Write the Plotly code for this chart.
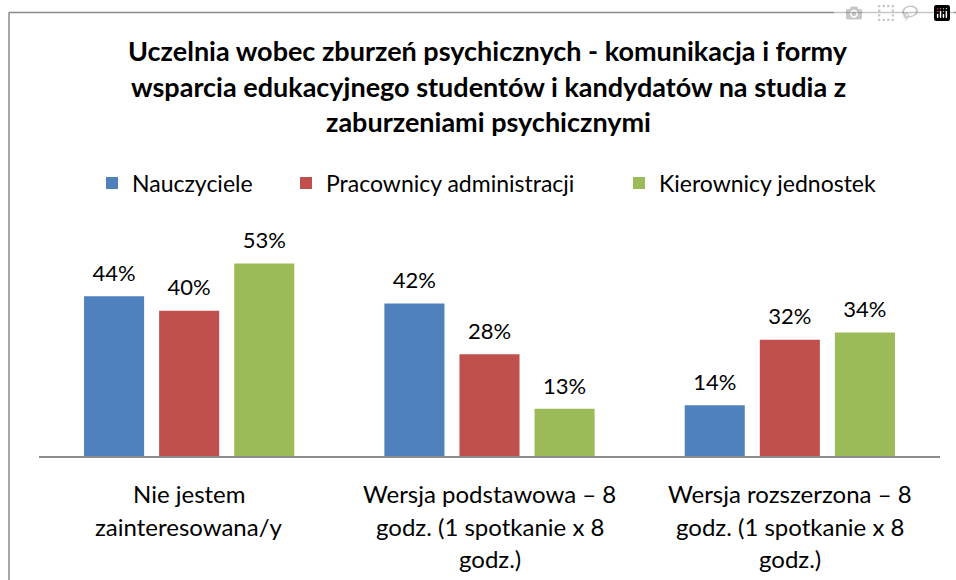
import plotly.graph_objects as go

# ---- data ----
categories = [
    "Nie jestem zainteresowana/y",
    "Wersja podstawowa – 8 godz. (1 spotkanie x 8 godz.)",
    "Wersja rozszerzona – 8 godz. (1 spotkanie x 8 godz.)",
]
category_lines = [
    ["Nie jestem", "zainteresowana/y"],
    ["Wersja podstawowa – 8", "godz. (1 spotkanie x 8", "godz.)"],
    ["Wersja rozszerzona – 8", "godz. (1 spotkanie x 8", "godz.)"],
]
series_names = ["Nauczyciele", "Pracownicy administracji", "Kierownicy jednostek"]
nauczyciele = [0.44, 0.42, 0.14]
pracownicy = [0.40, 0.28, 0.32]
kierownicy = [0.53, 0.13, 0.34]
series_values = [nauczyciele, pracownicy, kierownicy]
colors = ["#4F81BD", "#C0504D", "#9BBB59"]
title_lines = [
    "Uczelnia wobec zburzeń psychicznych - komunikacja i formy",
    "wsparcia edukacyjnego studentów i kandydatów na studia z",
    "zaburzeniami psychicznymi",
]

OFF = 0  # body margin removed via post_script
W, H = 956, 580
# plot area in screen pixels
SX0, SX1, SY0, SY1 = 39, 940, 238, 456
L, T = SX0 - OFF, SY0 - OFF
PW, PH = SX1 - SX0, SY1 - SY0
R, B = W - L - PW, H - T - PH
FONT = "Lato"

def px_x(x):  # screen x -> paper
    return (x - SX0) / PW

def px_y(y):  # screen y -> paper
    return (SY1 - y) / PH

fig = go.Figure()
legend_ids = ["legend", "legend2", "legend3"]
legend_marker_x = [104, 298, 631]
for i, (name, vals, col) in enumerate(zip(series_names, series_values, colors)):
    fig.add_trace(go.Bar(
        x=categories, y=vals, name=name, marker=dict(color=col, line=dict(width=0)),
        legend=legend_ids[i], hoverinfo="skip",
    ))
for i, (name, vals) in enumerate(zip(series_names, series_values)):
    fig.add_trace(go.Scatter(
        x=categories, y=vals, mode="markers+text",
        text=[f"{round(v*100)}%" for v in vals], textposition="top center",
        textfont=dict(family=FONT, size=22, color="#000000"),
        marker=dict(size=14, opacity=0), showlegend=False, hoverinfo="skip",
        cliponaxis=False,
    ))

annotations = []
title_y = [50, 86, 121]
for j, line in enumerate(title_lines):
    annotations.append(dict(
        text=line, xref="paper", yref="paper", x=px_x(488), y=px_y(title_y[j]),
        xanchor="center", yanchor="middle", showarrow=False,
        font=dict(family=FONT, size=27, color="#000000", weight="bold"),
    ))
line_y = [493, 526, 558]
for cat, lines in zip(categories, category_lines):
    for j, line in enumerate(lines):
        annotations.append(dict(
            text=line, xref="x", yref="paper", x=cat, y=px_y(line_y[j]),
            xanchor="center", yanchor="middle", showarrow=False,
            font=dict(family=FONT, size=24, color="#000000"),
        ))

border_style = dict(color="#8A8A8A", width=1.5)
border_shapes = [
    dict(type="line", xref="paper", yref="paper", layer="below", line=border_style,
         x0=px_x(9), x1=px_x(9), y0=px_y(600), y1=px_y(12.5)),
    dict(type="line", xref="paper", yref="paper", layer="below", line=border_style,
         x0=px_x(9), x1=px_x(980), y0=px_y(12.5), y1=px_y(12.5)),
]

leg_common = dict(orientation="h", xref="container", yref="container",
                  xanchor="left", yanchor="middle", bgcolor="rgba(0,0,0,0)",
                  y=1 - (183 - OFF) / H,
                  font=dict(family=FONT, size=23, color="#000000"))
fig.update_layout(
    width=W, height=H,
    margin=dict(l=L, r=R, t=T, b=B, pad=0),
    paper_bgcolor="white", plot_bgcolor="white",
    barmode="group", bargap=0.25, bargroupgap=0.2,
    scattermode="group", scattergap=0.25,
    font=dict(family=FONT, color="#000000"),
    xaxis=dict(showticklabels=False, ticks="", showline=True, linecolor="#8C8C8C",
               linewidth=1.5, showgrid=False, zeroline=False, fixedrange=True),
    yaxis=dict(range=[0, 0.6], visible=False, showgrid=False, zeroline=False, fixedrange=True),
    legend=dict(x=(legend_marker_x[0] - OFF - 12) / W, **leg_common),
    legend2=dict(x=(legend_marker_x[1] - OFF - 12) / W, **leg_common),
    legend3=dict(x=(legend_marker_x[2] - OFF - 12) / W, **leg_common),
    annotations=annotations,
    shapes=border_shapes,
    showlegend=True,
)
fig.write_html(
    "out.html",
    post_script="document.body.style.margin='0';document.body.style.overflow='hidden';",
)
